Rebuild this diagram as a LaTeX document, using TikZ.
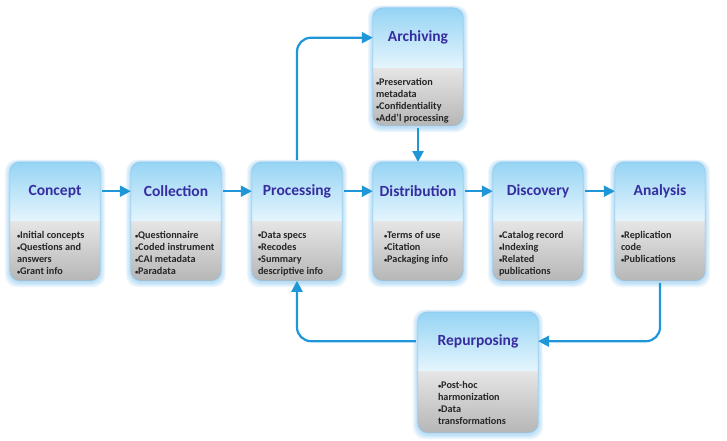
\documentclass[tikz,border=0pt]{standalone}
\usepackage{fontspec}
\setmainfont{Carlito}
\usetikzlibrary{arrows.meta,backgrounds,calc}
\definecolor{arrowblue}{RGB}{30,150,215}
\definecolor{titlecol}{RGB}{55,45,160}
\definecolor{hdtop}{RGB}{150,212,244}
\definecolor{hdbot}{RGB}{228,245,253}
\definecolor{bdtop}{RGB}{230,230,230}
\definecolor{bdbot}{RGB}{182,182,182}
\definecolor{glowcol}{RGB}{60,160,225}
\newcommand\bl{{\fontsize{6.5}{12}\selectfont\raisebox{0.6pt}{•}}}
\tikzset{
  hdbox/.style={inner sep=0pt, font=\bfseries\fontsize{15.5}{18}\selectfont, text=titlecol},
  bdbox/.style={inner sep=0pt},
  bodytext/.style={inner sep=0pt, align=left, font=\bfseries\fontsize{10.2}{12}\selectfont, text=black!85},
  flow/.style={draw=arrowblue, line width=2.2pt, -{Triangle[length=11pt,width=11pt]}, rounded corners=14pt, shorten <=2pt}
}
% 1 name, 2 cx, 3 top, 4 width, 5 header h, 6 body h, 7 title, 8 body, 9 indent
\newcommand\databox[9]{%
  \node[hdbox, minimum width=#4pt, minimum height=#5pt, anchor=north] (#1-t) at (#2,#3) {#7};
  \node[bdbox, minimum width=#4pt, minimum height=#6pt, anchor=north] (#1-b) at (#1-t.south) {};
  \node[bodytext, anchor=north west] (#1-x) at ([xshift=#9pt, yshift=-11pt]#1-b.north west) {#8};
  \begin{scope}[on background layer]
    \foreach \g in {5,4,3,2,1}{
      \fill[glowcol, opacity=0.08, rounded corners=12pt]
        ([xshift={-\g*1pt}, yshift={\g*0.5pt}]#1-t.north west) rectangle
        ([xshift={\g*1pt}, yshift={-(\g+1.5)*1pt}]#1-b.south east);
    }
    \begin{scope}
      \clip[rounded corners=10pt] (#1-t.north west) rectangle (#1-b.south east);
      \shade[top color=bdtop, bottom color=bdbot] (#1-b.north west) rectangle (#1-b.south east);
      \shade[top color=hdtop, bottom color=hdbot] (#1-t.north west) rectangle (#1-t.south east);
    \end{scope}
    \draw[glowcol!60, line width=0.5pt, rounded corners=10pt] (#1-t.north west) rectangle (#1-b.south east);
  \end{scope}
}
\begin{document}
\begin{tikzpicture}[x=1pt, y=-1pt]
\useasboundingbox (0,0) rectangle (727,441);

\databox{concept}{55}{162}{90}{58}{60}{Concept}{\bl Initial concepts\\\bl Questions and\\answers\\\bl Grant info}{7}
\databox{collection}{176}{162}{90}{58}{60}{Collection}{\bl Questionnaire\\\bl Coded instrument\\\bl CAI metadata\\\bl Paradata}{4}
\databox{processing}{297}{162}{90}{58}{60}{Processing}{\bl Data specs\\\bl Recodes\\\bl Summary\\descriptive info}{6}
\databox{distribution}{418}{162}{90}{58}{60}{Distribution}{\bl Terms of use\\\bl Citation\\\bl Packaging info}{11}
\databox{discovery}{538}{162}{90}{58}{60}{Discovery}{\bl Catalog record\\\bl Indexing\\\bl Related\\publications}{6}
\databox{analysis}{660}{162}{90}{58}{60}{Analysis}{\bl Replication\\code\\\bl Publications}{6}
\databox{archiving}{418}{8}{90}{59}{58}{Archiving}{\bl Preservation\\metadata\\\bl Confidentiality\\\bl Add’l processing}{3}
\databox{repurposing}{478}{312}{120}{58}{62}{Repurposing}{\bl Post-hoc\\harmonization\\\bl Data\\transformations}{20}

\draw[flow] (concept-t.east) -- (collection-t.west);
\draw[flow] (collection-t.east) -- (processing-t.west);
\draw[flow] (processing-t.east) -- (distribution-t.west);
\draw[flow] (distribution-t.east) -- (discovery-t.west);
\draw[flow] (discovery-t.east) -- (analysis-t.west);
\draw[flow] (processing-t.north) |- (archiving-t.west);
\draw[flow] (archiving-b.south) -- (distribution-t.north);
\draw[flow] (analysis-b.south) |- (repurposing-t.east);
\draw[flow] (repurposing-t.west) -| (processing-b.south);
\end{tikzpicture}
\end{document}
